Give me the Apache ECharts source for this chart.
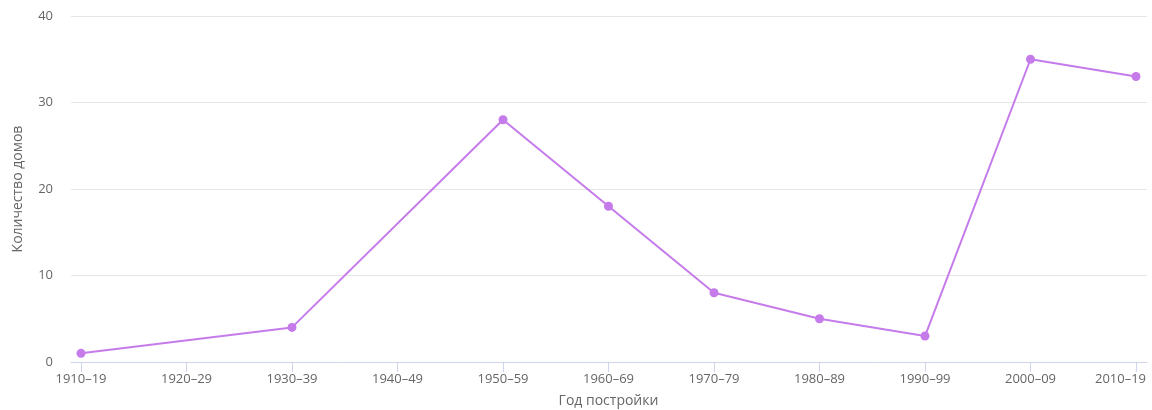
<!DOCTYPE html>
<html>
<head>
<meta charset="utf-8">
<script src="https://cdn.jsdelivr.net/npm/echarts@6/dist/echarts.min.js"></script>
<style>
html,body{margin:0;padding:0;background:#fff;}
#chart{width:1152px;height:410px;}
</style>
</head>
<body>
<div id="chart"></div>
<script>
var categories = ['1910–19','1920–29','1930–39','1940–49','1950–59','1960–69','1970–79','1980–89','1990–99','2000–09','2010–19'];
var houses = [1, null, 4, null, 28, 18, 8, 5, 3, 35, 33];
var yTicks = {min: 0, max: 40, interval: 10};
var xTitle = 'Год постройки';
var yTitle = 'Количество домов';

var font = '"Open Sans", "DejaVu Sans", sans-serif';
var chart = echarts.init(document.getElementById('chart'), null, {renderer: 'canvas'});
chart.setOption({
  backgroundColor: '#ffffff',
  animation: false,
  grid: [
    {left: 71, right: 5, top: 16, bottom: 48, containLabel: false, outerBoundsMode: 'none'},
    {left: 81, right: 16, top: 16, bottom: 48, containLabel: false, outerBoundsMode: 'none'}
  ],
  xAxis: [
    {
      gridIndex: 0, type: 'value', min: 0, max: 1,
      axisLine: {show: true, lineStyle: {color: '#ccd6eb', width: 1}},
      axisTick: {show: false}, axisLabel: {show: false}, splitLine: {show: false}
    },
    {
      gridIndex: 1, type: 'category', data: categories, boundaryGap: false,
      axisLine: {show: false},
      axisTick: {show: true, length: 10, lineStyle: {color: '#ccd6eb'}},
      axisLabel: {
        interval: 0, margin: 11, color: '#666666', fontSize: 13, fontFamily: font,
        formatter: function (v, i) {
          return i === categories.length - 1 ? '{last|' + v + '}' : v;
        },
        rich: {
          last: {color: '#666666', fontSize: 13, fontFamily: font, padding: [0, 31, 0, 0]}
        }
      },
      splitLine: {show: false},
      name: xTitle, nameLocation: 'middle', nameGap: 32,
      nameTextStyle: {color: '#666666', fontSize: 14, fontFamily: font}
    }
  ],
  yAxis: [
    {
      gridIndex: 0, type: 'value', min: yTicks.min, max: yTicks.max, interval: yTicks.interval,
      axisLine: {show: false}, axisTick: {show: false},
      axisLabel: {margin: 18, color: '#666666', fontSize: 13, fontFamily: font},
      splitLine: {show: true, lineStyle: {color: '#e6e6e6', width: 1}},
      name: yTitle, nameLocation: 'middle', nameGap: 46,
      nameTextStyle: {color: '#666666', fontSize: 14, fontFamily: font}
    },
    {
      gridIndex: 1, type: 'value', min: yTicks.min, max: yTicks.max, interval: yTicks.interval,
      show: false
    }
  ],
  series: [{
    type: 'line', xAxisIndex: 1, yAxisIndex: 1,
    data: houses, connectNulls: true,
    symbol: 'circle', symbolSize: 9,
    lineStyle: {color: '#c67bea', width: 2},
    itemStyle: {color: '#c67bea'}
  }]
});
</script>
</body>
</html>
